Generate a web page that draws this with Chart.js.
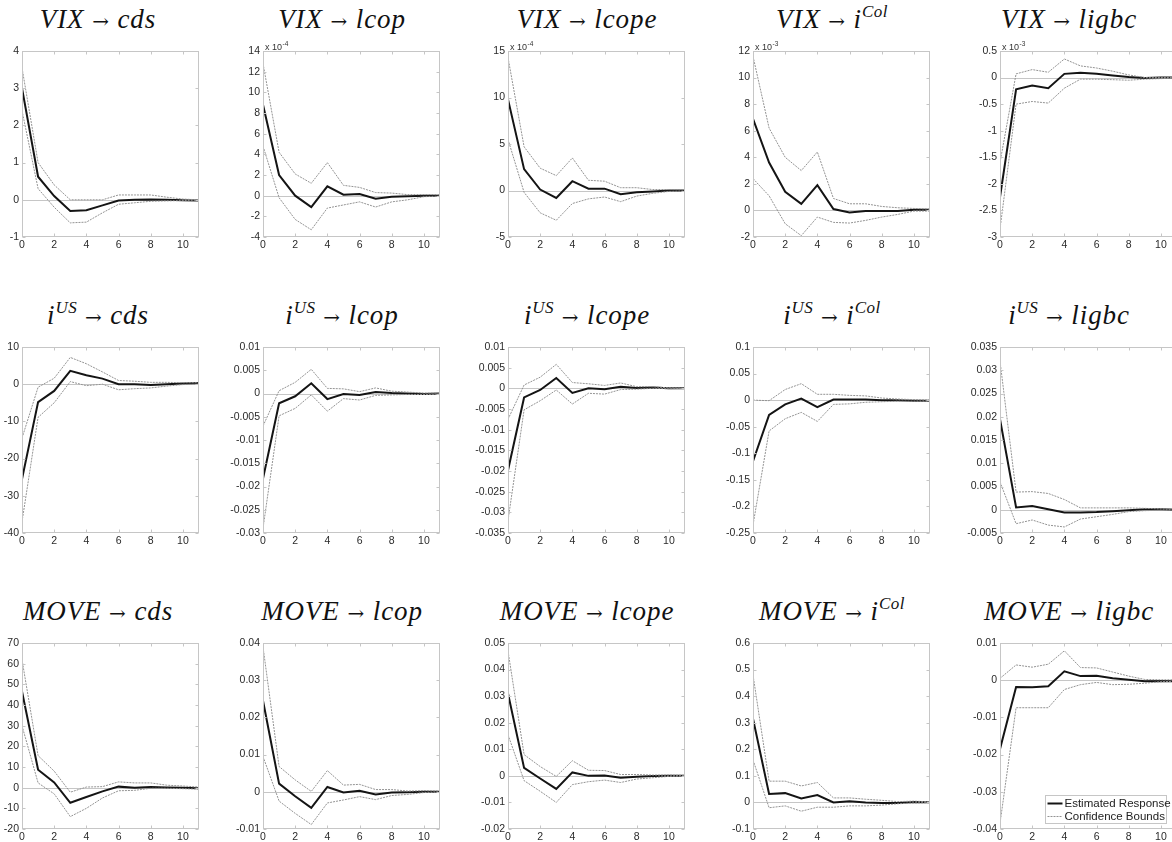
<!DOCTYPE html>
<html>
<head>
<meta charset="utf-8">
<script src="https://cdn.jsdelivr.net/npm/chart.js@4.4.0/dist/chart.umd.min.js"></script>
<style>
  html, body { margin: 0; padding: 0; background: #fff; }
  body { width: 1172px; height: 842px; position: relative; overflow: hidden; }
  .ttl {
    position: absolute; width: 260px; margin-left: -130px; text-align: center;
    font-family: "Liberation Serif", "DejaVu Serif", serif; font-style: italic;
    font-size: 27px; line-height: 26px; letter-spacing: 0.9px; color: #111; white-space: nowrap;
  }
  .ttl .sup { font-size: 17px; position: relative; top: -11px; letter-spacing: 0.5px; }
  .ttl .arr { font-style: normal; font-family: "DejaVu Serif", serif; font-size: 20px; }
  canvas { position: absolute; }
</style>
</head>
<body>
<script>
// horizons (x axis)
const horizons = [0, 1, 2, 3, 4, 5, 6, 7, 8, 9, 10, 11];

const shocks = ['VIX', 'i^US', 'MOVE'];
const responses = ['cds', 'lcop', 'lcope', 'i^Col', 'ligbc'];
const legendLabels = ['Estimated Response', 'Confidence Bounds'];

// --- VIX shock (lcop/lcope in x10^-4, i^Col/ligbc in x10^-3) ---
const vixCds      = [3.0, 0.62, 0.1, -0.3, -0.28, -0.15, -0.02, 0.0, 0.01, 0.0, -0.01, -0.02];
const vixCdsHi    = [3.55, 1.0, 0.4, 0.0, 0.0, 0.0, 0.13, 0.13, 0.13, 0.07, 0.02, 0.0];
const vixCdsLo    = [2.4, 0.3, -0.2, -0.62, -0.6, -0.35, -0.12, -0.08, -0.04, -0.03, -0.02, -0.03];

const vixLcop     = [8.8, 2.0, 0.0, -1.1, 0.9, 0.1, 0.15, -0.3, -0.1, -0.05, 0.0, 0.0];
const vixLcopHi   = [12.8, 4.2, 2.1, 1.2, 3.2, 1.0, 0.8, 0.3, 0.25, 0.1, 0.1, 0.1];
const vixLcopLo   = [4.8, -0.2, -2.3, -3.3, -1.2, -0.9, -0.6, -1.1, -0.6, -0.4, -0.1, -0.05];

const vixLcope    = [9.8, 2.3, 0.1, -0.8, 1.0, 0.2, 0.2, -0.4, -0.2, -0.1, 0.0, 0.0];
const vixLcopeHi  = [14.3, 4.7, 2.4, 1.6, 3.5, 1.1, 1.0, 0.3, 0.3, 0.1, 0.1, 0.1];
const vixLcopeLo  = [5.5, -0.2, -2.4, -3.2, -1.4, -0.9, -0.7, -1.2, -0.6, -0.3, -0.1, -0.05];

const vixICol     = [6.9, 3.6, 1.4, 0.5, 1.9, 0.1, -0.15, -0.05, -0.05, -0.05, 0.05, 0.05];
const vixIColHi   = [11.6, 6.2, 4.0, 3.0, 4.4, 0.9, 0.5, 0.5, 0.3, 0.2, 0.15, 0.1];
const vixIColLo   = [2.4, 1.1, -1.0, -1.9, -0.5, -0.9, -0.95, -0.75, -0.5, -0.3, -0.05, -0.05];

const vixLigbc    = [-2.25, -0.22, -0.15, -0.2, 0.07, 0.09, 0.07, 0.04, 0.01, -0.01, 0.0, 0.0];
const vixLigbcHi  = [-1.6, 0.07, 0.15, 0.1, 0.35, 0.22, 0.18, 0.12, 0.05, 0.0, 0.0, 0.0];
const vixLigbcLo  = [-2.85, -0.5, -0.45, -0.48, -0.2, -0.03, -0.03, -0.04, -0.05, -0.03, -0.02, -0.01];

// --- US rate shock ---
const usCds       = [-25.5, -4.8, -1.8, 3.6, 2.4, 1.5, 0.0, 0.0, -0.2, 0.0, 0.2, 0.3];
const usCdsHi     = [-14.5, -0.8, 1.6, 7.2, 5.5, 3.3, 1.0, 0.8, 0.5, 0.5, 0.4, 0.4];
const usCdsLo     = [-37, -8.9, -5, 0.7, -0.4, 0.0, -1.5, -1.2, -1.0, -0.5, -0.1, 0.0];

const usLcop      = [-0.0183, -0.0021, -0.0006, 0.0022, -0.0012, -0.0001, -0.0003, 0.0003, 0.0001, 0.0, -0.0001, 0.0];
const usLcopHi    = [-0.007, 0.0006, 0.0024, 0.0052, 0.0011, 0.001, 0.0004, 0.0012, 0.0005, 0.0003, 0.0001, 0.0001];
const usLcopLo    = [-0.029, -0.0048, -0.0032, -0.0003, -0.0038, -0.0011, -0.0014, -0.0004, -0.0003, -0.0002, -0.0002, -0.0001];

const usLcope     = [-0.0198, -0.0022, -0.0004, 0.0025, -0.0011, 0.0, -0.0002, 0.0004, 0.0001, 0.0002, 0.0, 0.0];
const usLcopeHi   = [-0.0075, 0.0008, 0.0027, 0.0058, 0.0014, 0.0011, 0.0007, 0.0013, 0.0004, 0.0004, 0.0001, 0.0];
const usLcopeLo   = [-0.032, -0.0052, -0.003, -0.0004, -0.0038, -0.0012, -0.0014, -0.0003, -0.0002, 0.0, -0.0001, 0.0];

const usICol      = [-0.115, -0.028, -0.008, 0.003, -0.013, 0.001, 0.001, 0.001, 0.0, 0.0, -0.001, -0.001];
const usIColHi    = [0.0, -0.001, 0.02, 0.031, 0.011, 0.011, 0.009, 0.008, 0.004, 0.002, 0.001, 0.0];
const usIColLo    = [-0.235, -0.058, -0.035, -0.023, -0.04, -0.008, -0.007, -0.004, -0.003, -0.002, -0.002, -0.002];

const usLigbc     = [0.0195, 0.0005, 0.0008, 0.0001, -0.0006, -0.0006, -0.0005, -0.0003, -0.0001, 0.0001, 0.0001, 0.0];
const usLigbcHi   = [0.032, 0.0038, 0.0039, 0.0035, 0.0022, 0.0004, 0.0004, 0.0004, 0.0004, 0.0003, 0.0002, 0.0001];
const usLigbcLo   = [0.006, -0.003, -0.0022, -0.0033, -0.0037, -0.002, -0.0015, -0.001, -0.0004, -0.0002, -0.0001, 0.0];

// --- MOVE shock ---
const moveCds     = [46.5, 8.7, 2.5, -7.3, -4.5, -1.8, 0.5, 0.0, 0.3, 0.1, -0.1, -0.3];
const moveCdsHi   = [62, 15.5, 8, -2.2, 0.3, 0.5, 2.8, 2.3, 2.3, 1.2, 0.8, 0.3];
const moveCdsLo   = [30, 2.3, -3, -14, -10, -5, -1.5, -1.3, -0.3, -0.3, -0.5, -0.7];

const moveLcop    = [0.0245, 0.0022, -0.0012, -0.0043, 0.0013, -0.0002, 0.0003, -0.0007, -0.0002, -0.0001, 0.0, 0.0];
const moveLcopHi  = [0.039, 0.0068, 0.0032, 0.0001, 0.0057, 0.0018, 0.002, 0.0006, 0.0006, 0.0002, 0.0003, 0.0002];
const moveLcopLo  = [0.0095, -0.0025, -0.0058, -0.0088, -0.003, -0.0022, -0.0013, -0.0021, -0.001, -0.0007, -0.0002, -0.0001];

const moveLcope   = [0.031, 0.003, -0.001, -0.0049, 0.0013, 0.0, 0.0001, -0.0007, -0.0003, -0.0001, 0.0, 0.0];
const moveLcopeHi = [0.047, 0.008, 0.0035, -0.0002, 0.0057, 0.0021, 0.002, 0.0005, 0.0005, 0.0003, 0.0003, 0.0002];
const moveLcopeLo = [0.0155, -0.0018, -0.0058, -0.01, -0.0033, -0.0022, -0.0016, -0.0025, -0.0012, -0.0007, -0.0002, -0.0001];

const moveICol    = [0.315, 0.032, 0.035, 0.015, 0.028, 0.0, 0.004, 0.0, -0.002, -0.002, 0.002, 0.001];
const moveIColHi  = [0.48, 0.08, 0.08, 0.062, 0.075, 0.017, 0.017, 0.012, 0.008, 0.003, 0.005, 0.002];
const moveIColLo  = [0.16, -0.02, -0.013, -0.033, -0.018, -0.018, -0.013, -0.013, -0.01, -0.005, -0.002, -0.001];

const moveLigbc   = [-0.0185, -0.0018, -0.0019, -0.0016, 0.0024, 0.0011, 0.0012, 0.0005, 0.0001, -0.0003, -0.0002, -0.0003];
const moveLigbcHi = [0.0005, 0.0041, 0.0035, 0.0043, 0.0079, 0.0034, 0.0033, 0.0022, 0.0011, 0.0002, 0.0001, 0.0001];
const moveLigbcLo = [-0.0385, -0.0074, -0.0074, -0.0074, -0.0025, -0.0012, -0.0006, -0.0012, -0.0011, -0.0008, -0.0004, -0.0003];

const estimates = [vixCds, vixLcop, vixLcope, vixICol, vixLigbc,
                   usCds, usLcop, usLcope, usICol, usLigbc,
                   moveCds, moveLcop, moveLcope, moveICol, moveLigbc];
const upperBounds = [vixCdsHi, vixLcopHi, vixLcopeHi, vixIColHi, vixLigbcHi,
                     usCdsHi, usLcopHi, usLcopeHi, usIColHi, usLigbcHi,
                     moveCdsHi, moveLcopHi, moveLcopeHi, moveIColHi, moveLigbcHi];
const lowerBounds = [vixCdsLo, vixLcopLo, vixLcopeLo, vixIColLo, vixLigbcLo,
                     usCdsLo, usLcopLo, usLcopeLo, usIColLo, usLigbcLo,
                     moveCdsLo, moveLcopLo, moveLcopeLo, moveIColLo, moveLigbcLo];

// y axis ticks per panel
const yMins  = [-1, -4, -5, -2, -3,   -40, -0.03, -0.035, -0.25, -0.005,   -20, -0.01, -0.02, -0.1, -0.04];
const yMaxs  = [4, 14, 15, 12, 0.5,   10, 0.01, 0.01, 0.1, 0.035,          70, 0.04, 0.05, 0.6, 0.01];
const ySteps = [1, 2, 5, 2, 0.5,      10, 0.005, 0.005, 0.05, 0.005,       10, 0.01, 0.01, 0.1, 0.01];
const yExponents = [null, -4, -4, -3, -3, null, null, null, null, null, null, null, null, null, null];

// layout
const plotLefts = [22, 263, 508, 753, 1000];
const plotTops = [51, 347, 643];
const titleCenters = [98, 342, 587, 832, 1069];
const plotW = 177, plotH = 186;
const padL = 50, padT = 14, padR = 6, padB = 20;

const boxColor = '#c6c6c6';
const tickFont = { family: '"Liberation Sans", Arial, sans-serif', size: 10.5 };

// MATLAB-like axes box, inner tick marks, zero line, exponent label, legend
const matlabBox = {
    id: 'matlabBox',
    beforeDatasetsDraw(chart) {
        const { ctx, chartArea: a, scales: { y } } = chart;
        const y0 = Math.round(y.getPixelForValue(0)) + 0.5;
        ctx.save();
        ctx.strokeStyle = boxColor;
        ctx.lineWidth = 1;
        ctx.beginPath();
        ctx.moveTo(a.left, y0);
        ctx.lineTo(a.right, y0);
        ctx.stroke();
        ctx.restore();
    },
    afterDatasetsDraw(chart, args, opts) {
        const { ctx, chartArea: a, scales: { x, y } } = chart;
        const L = Math.round(a.left) + 0.5, R = Math.round(a.right) - 0.5;
        const T = Math.round(a.top) + 0.5, B = Math.round(a.bottom) - 0.5;
        ctx.save();
        ctx.strokeStyle = boxColor;
        ctx.lineWidth = 1;
        ctx.strokeRect(L, T, R - L, B - T);
        ctx.beginPath();
        x.ticks.forEach(t => {
            const px = Math.round(x.getPixelForValue(t.value)) + 0.5;
            ctx.moveTo(px, B); ctx.lineTo(px, B - 3);
            ctx.moveTo(px, T); ctx.lineTo(px, T + 3);
        });
        y.ticks.forEach(t => {
            const py = Math.round(y.getPixelForValue(t.value)) + 0.5;
            ctx.moveTo(L, py); ctx.lineTo(L + 3, py);
            ctx.moveTo(R, py); ctx.lineTo(R - 3, py);
        });
        ctx.stroke();

        // exponent label, e.g. "x 10^-4"
        if (opts.exponent != null) {
            ctx.fillStyle = '#333';
            ctx.textBaseline = 'alphabetic';
            ctx.font = '9px "Liberation Sans", Arial, sans-serif';
            const base = 'x 10';
            ctx.fillText(base, a.left + 2, a.top - 1);
            const w = ctx.measureText(base).width;
            ctx.font = '6.5px "Liberation Sans", Arial, sans-serif';
            ctx.fillText(String(opts.exponent), a.left + 2 + w + 0.5, a.top - 5);
        }

        // legend box in the corner
        if (opts.legend) {
            const ds = chart.data.datasets;
            const entries = [ds[2], ds[0]];
            const bw = 121, bh = 28;
            const bx = Math.round(a.right - 11 - bw) + 0.5;
            const by = Math.round(a.bottom - 6 - bh) + 0.5;
            ctx.fillStyle = '#fff';
            ctx.fillRect(bx, by, bw, bh);
            ctx.strokeStyle = boxColor;
            ctx.strokeRect(bx, by, bw, bh);
            ctx.font = '11.5px "Liberation Sans", Arial, sans-serif';
            ctx.textBaseline = 'middle';
            entries.forEach((d, k) => {
                const ly = Math.round(by + 7.5 + k * 12.5) + 0.5;
                ctx.save();
                ctx.strokeStyle = d.borderColor;
                ctx.lineWidth = d.borderWidth;
                ctx.setLineDash(d.borderDash || []);
                ctx.beginPath();
                ctx.moveTo(bx + 2, ly);
                ctx.lineTo(bx + 17, ly);
                ctx.stroke();
                ctx.restore();
                ctx.fillStyle = '#222';
                ctx.fillText(d.label, bx + 19, ly + 0.5);
            });
        }
        ctx.restore();
    }
};

function fmtTick(v) {
    return String(parseFloat(Number(v).toFixed(6)));
}

function titleHTML(s) {
    const parts = s.split('^');
    return parts[1] ? parts[0] + '<span class="sup">' + parts[1] + '</span>' : parts[0];
}

function makePanel(row, col) {
    const i = row * 5 + col;
    const left = plotLefts[col] - padL;
    const top = plotTops[row] - padT;
    const W = padL + plotW + padR, H = padT + plotH + padB;

    const ttl = document.createElement('div');
    ttl.className = 'ttl';
    ttl.style.left = titleCenters[col] + 'px';
    ttl.style.top = (plotTops[row] - 45) + 'px';
    ttl.innerHTML = titleHTML(shocks[row]) + ' <span class="arr">\u2192</span> ' + titleHTML(responses[col]);
    document.body.appendChild(ttl);

    const canvas = document.createElement('canvas');
    canvas.width = W; canvas.height = H;
    canvas.style.width = W + 'px'; canvas.style.height = H + 'px';
    canvas.style.left = left + 'px'; canvas.style.top = top + 'px';
    document.body.appendChild(canvas);

    const boundStyle = { borderColor: '#939393', borderWidth: 1, borderDash: [2, 1] };

    new Chart(canvas, {
        type: 'line',
        data: {
            labels: horizons,
            datasets: [
                Object.assign({ label: legendLabels[1], data: upperBounds[i] }, boundStyle),
                Object.assign({ label: legendLabels[1], data: lowerBounds[i] }, boundStyle),
                { label: legendLabels[0], data: estimates[i], borderColor: '#141414', borderWidth: 2 }
            ]
        },
        options: {
            responsive: false,
            animation: false,
            layout: { padding: { left: 0, top: padT, right: padR, bottom: 0 } },
            elements: { point: { radius: 0 }, line: { tension: 0 } },
            plugins: {
                legend: { display: false },
                tooltip: { enabled: false },
                matlabBox: { exponent: yExponents[i], legend: row === 2 && col === 4 }
            },
            scales: {
                x: {
                    type: 'linear', min: 0, max: 11,
                    grid: { display: false, drawTicks: false },
                    border: { display: false },
                    ticks: { stepSize: 2, includeBounds: false, padding: 2, maxRotation: 0,
                             color: '#2a2a2a', font: tickFont, callback: fmtTick },
                    afterFit: s => { s.height = padB; }
                },
                y: {
                    min: yMins[i], max: yMaxs[i],
                    grid: { display: false, drawTicks: false },
                    border: { display: false },
                    ticks: { stepSize: ySteps[i], includeBounds: false, padding: 3, autoSkip: false,
                             color: '#2a2a2a', font: tickFont, callback: fmtTick },
                    afterFit: s => { s.width = padL; }
                }
            }
        },
        plugins: [matlabBox]
    });
}

for (let r = 0; r < 3; r++) {
    for (let c = 0; c < 5; c++) {
        makePanel(r, c);
    }
}
</script>
</body>
</html>
